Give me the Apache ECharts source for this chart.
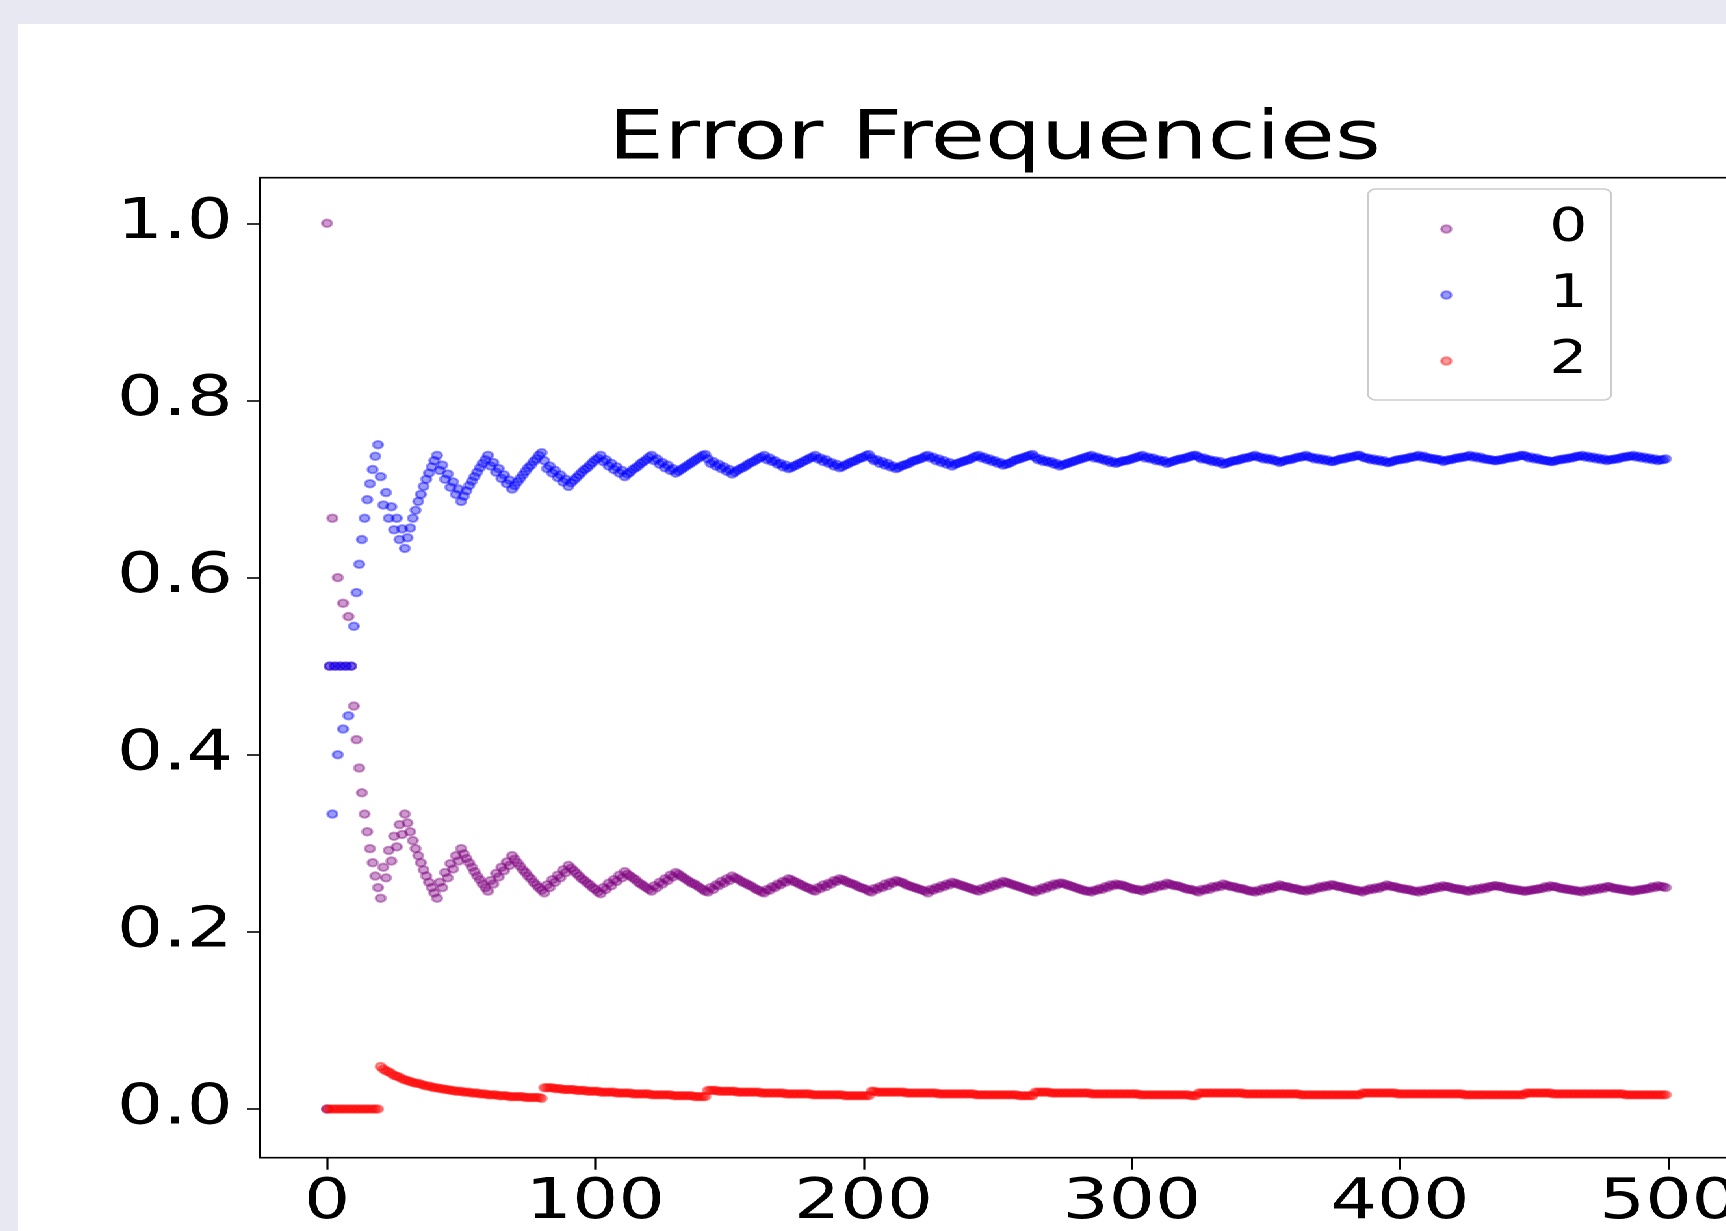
<!DOCTYPE html>
<html>
<head>
<meta charset="utf-8">
<title>Error Frequencies</title>
<script src="https://cdn.jsdelivr.net/npm/echarts@6/dist/echarts.min.js"></script>
<style>
html, body { margin: 0; padding: 0; background: #e8e8f2; overflow: hidden; }
/* the original figure is stretched sideways, so the chart is drawn narrow and scaled */
#chart {
  position: absolute; left: 18px; top: 24px;
  width: 1314px; height: 1207px;
  background: #fff;
  transform: scaleX(1.3); transform-origin: 0 0;
}
</style>
</head>
<body>
<div id="chart"></div>
<script>
// tick labels
const xTicks = [0, 100, 200, 300, 400, 500];
const yTicks = [0, 0.2, 0.4, 0.6, 0.8, 1.0];

// legend names and colours
const seriesNames = ['0', '1', '2'];
const seriesColors = ['rgba(128,0,128,0.5)', 'rgba(0,0,255,0.5)', 'rgba(255,0,0,0.5)'];

// frequency of error 0 at each step (step = index)
const freq0 = [
1,.5,.667,.5,.6,.5,.571,.5,.556,.5,
.455,.417,.385,.357,.333,.313,.294,.278,.263,.25,
.238,.273,.261,.292,.28,.308,.296,.321,.31,.333,
.323,.313,.303,.294,.286,.278,.27,.263,.256,.25,
.244,.238,.256,.25,.267,.261,.277,.271,.286,.28,
.294,.288,.283,.278,.273,.268,.263,.259,.254,.25,.246,
.258,.254,.266,.262,.273,.269,.279,.275,.286,.282,
.278,.274,.27,.267,.263,.26,.256,.253,.25,.247,
.244,.253,.25,.259,.256,.264,.261,.27,.267,.275,
.272,.269,.266,.263,.26,.258,.255,.253,.25,.248,
.245,.243,.25,.248,.255,.252,.259,.257,.264,.261,
.268,.265,.263,.261,.259,.256,.254,.252,.25,.248,.246,
.252,.25,.256,.254,.26,.258,.264,.262,.267,.265,
.263,.261,.259,.257,.255,.254,.252,.25,.248,.246,
.245,.25,.248,.253,.252,.257,.255,.26,.258,.263,
.261,.26,.258,.256,.255,.253,.252,.25,.248,.247,
.245,.244,.248,.247,.251,.25,.254,.253,.257,.256,
.26,.259,.257,.256,.254,.253,.251,.25,.249,.247,.246,
.25,.249,.253,.251,.255,.254,.258,.257,.26,.259,
.258,.256,.255,.254,.253,.251,.25,.249,.248,.246,
.245,.249,.248,.251,.25,.254,.252,.256,.255,.258,
.257,.256,.255,.253,.252,.251,.25,.249,.248,.247,
.246,.244,.248,.247,.25,.249,.252,.251,.254,.253,
.256,.255,.254,.253,.252,.251,.25,.249,.248,.247,.246,
.249,.248,.251,.25,.253,.252,.255,.254,.257,.256,
.255,.254,.253,.252,.251,.25,.249,.248,.247,.246,
.245,.248,.247,.25,.249,.252,.251,.254,.253,.255,
.255,.254,.253,.252,.251,.25,.249,.248,.247,.246,
.246,.245,.247,.247,.249,.248,.251,.25,.253,.252,
.254,.253,.253,.252,.251,.25,.249,.248,.248,.247,.246,
.248,.248,.25,.249,.252,.251,.253,.252,.255,.254,
.253,.252,.252,.251,.25,.249,.248,.248,.247,.246,
.245,.248,.247,.249,.248,.251,.25,.252,.251,.254,
.253,.252,.251,.251,.25,.249,.249,.248,.247,.246,
.246,.245,.247,.246,.249,.248,.25,.249,.251,.251,
.253,.252,.251,.251,.25,.249,.249,.248,.247,.247,.246,
.248,.247,.249,.249,.251,.25,.252,.251,.253,.253,
.252,.251,.251,.25,.249,.249,.248,.247,.247,.246,
.245,.247,.247,.249,.248,.25,.249,.251,.251,.253,
.252,.251,.251,.25,.249,.249,.248,.248,.247,.246,
.246,.245,.247,.246,.248,.248,.249,.249,.251,.25,
.252,.251,.251,.25,.249,.249,.248,.248,.247,.246,.246,
.248,.247,.249,.248,.25,.249,.251,.251,.252,.252,
.251,.251,.25,.249,.249,.248,.248,.247,.247,.246,
.246,.247,.247,.248,.248,.249,.249,.251,.25,.252,
.251,.251,.25,.249,.249,.248,.248,.247,.247,.246,
.246,.245,.247,.246,.248,.247,.249,.248,.25,.249,
.251,.251,.25,.249,.249,.248,.248,.247,.247,.246,.246,
.247,.247,.248,.248,.249,.249,.251,.25,.252,.251,.251,.25
];

// frequency of error 1
const freq1 = [
0,.5,.333,.5,.4,.5,.429,.5,.444,.5,
.545,.583,.615,.643,.667,.688,.706,.722,.737,.75,
.714,.682,.696,.667,.68,.654,.667,.643,.655,.633,
.645,.656,.667,.676,.686,.694,.703,.711,.718,.725,
.732,.738,.721,.727,.711,.717,.702,.708,.694,.7,
.686,.692,.698,.704,.709,.714,.719,.724,.729,.733,.738,
.726,.73,.719,.723,.712,.716,.706,.71,.7,.704,
.708,.712,.716,.72,.724,.727,.731,.734,.738,.741,
.732,.723,.726,.718,.721,.713,.716,.708,.711,.703,
.707,.71,.713,.716,.719,.722,.724,.727,.73,.733,
.735,.738,.731,.733,.726,.729,.722,.725,.718,.721,
.714,.717,.719,.722,.724,.726,.729,.731,.733,.736,.738,
.732,.734,.728,.73,.724,.727,.721,.723,.718,.72,
.722,.724,.726,.728,.73,.732,.734,.736,.738,.739,
.734,.729,.731,.726,.728,.723,.725,.72,.722,.717,
.719,.721,.723,.724,.726,.728,.73,.731,.733,.735,
.736,.738,.733,.735,.731,.732,.728,.729,.725,.727,
.723,.724,.726,.727,.729,.73,.732,.733,.735,.736,.738,
.734,.735,.731,.733,.729,.73,.726,.728,.724,.725,
.727,.728,.73,.731,.732,.734,.735,.736,.738,.739,
.735,.732,.733,.729,.731,.727,.729,.725,.726,.723,
.724,.726,.727,.728,.729,.731,.732,.733,.734,.735,
.737,.738,.735,.736,.732,.734,.73,.732,.728,.73,
.726,.728,.729,.73,.731,.732,.733,.734,.736,.737,.738,
.735,.736,.733,.734,.731,.732,.729,.73,.727,.728,
.729,.73,.732,.733,.734,.735,.736,.737,.738,.739,
.736,.733,.734,.731,.732,.73,.731,.728,.729,.726,
.727,.728,.729,.73,.731,.732,.733,.734,.735,.736,
.737,.738,.735,.736,.734,.734,.732,.733,.73,.731,
.729,.73,.731,.732,.732,.733,.734,.735,.736,.737,.738,
.735,.736,.734,.735,.732,.733,.731,.732,.729,.73,
.731,.732,.733,.734,.734,.735,.736,.737,.738,.738,
.736,.734,.735,.733,.733,.731,.732,.73,.731,.728,
.729,.73,.731,.732,.732,.733,.734,.735,.735,.736,
.737,.738,.736,.736,.734,.735,.733,.734,.732,.732,
.73,.731,.732,.733,.733,.734,.735,.736,.736,.737,.738,
.736,.736,.734,.735,.733,.734,.732,.733,.731,.731,
.732,.733,.734,.734,.735,.736,.736,.737,.738,.738,
.736,.735,.735,.733,.734,.732,.733,.731,.732,.73,
.73,.731,.732,.733,.733,.734,.734,.735,.736,.736,
.737,.738,.736,.737,.735,.735,.734,.734,.733,.733,
.731,.732,.733,.733,.734,.735,.735,.736,.736,.737,.738,
.736,.737,.735,.736,.734,.734,.733,.733,.732,.732,
.733,.733,.734,.735,.735,.736,.736,.737,.738,.738,
.737,.735,.736,.734,.735,.733,.733,.732,.732,.731,
.731,.732,.733,.733,.734,.734,.735,.735,.736,.737,
.737,.738,.736,.737,.735,.736,.734,.735,.733,.734,
.732,.733,.733,.734,.734,.735,.736,.736,.737,.737,.738,
.736,.737,.735,.736,.734,.735,.733,.734,.732,.733,.733,.734
];

// frequency of error 2
const freq2 = [
0,0,0,0,0,0,0,0,0,0,
0,0,0,0,0,0,0,0,0,0,
.048,.045,.043,.042,.04,.038,.037,.036,.034,.033,
.032,.031,.03,.029,.029,.028,.027,.026,.026,.025,
.024,.024,.023,.023,.022,.022,.021,.021,.02,.02,
.02,.019,.019,.019,.018,.018,.018,.017,.017,.017,.016,
.016,.016,.016,.015,.015,.015,.015,.014,.014,.014,
.014,.014,.014,.013,.013,.013,.013,.013,.013,.012,
.024,.024,.024,.024,.023,.023,.023,.022,.022,.022,
.022,.022,.021,.021,.021,.021,.02,.02,.02,.02,
.02,.019,.019,.019,.019,.019,.019,.018,.018,.018,
.018,.018,.018,.017,.017,.017,.017,.017,.017,.017,.016,
.016,.016,.016,.016,.016,.016,.016,.015,.015,.015,
.015,.015,.015,.015,.015,.014,.014,.014,.014,.014,
.021,.021,.021,.021,.02,.02,.02,.02,.02,.02,
.02,.019,.019,.019,.019,.019,.019,.019,.019,.019,
.018,.018,.018,.018,.018,.018,.018,.018,.018,.017,
.017,.017,.017,.017,.017,.017,.017,.017,.017,.016,.016,
.016,.016,.016,.016,.016,.016,.016,.016,.016,.016,
.015,.015,.015,.015,.015,.015,.015,.015,.015,.015,
.02,.02,.019,.019,.019,.019,.019,.019,.019,.019,
.019,.019,.019,.018,.018,.018,.018,.018,.018,.018,
.018,.018,.018,.018,.018,.017,.017,.017,.017,.017,
.017,.017,.017,.017,.017,.017,.017,.017,.017,.016,.016,
.016,.016,.016,.016,.016,.016,.016,.016,.016,.016,
.016,.016,.016,.016,.015,.015,.015,.015,.015,.015,
.019,.019,.019,.019,.019,.019,.018,.018,.018,.018,
.018,.018,.018,.018,.018,.018,.018,.018,.018,.018,
.018,.017,.017,.017,.017,.017,.017,.017,.017,.017,
.017,.017,.017,.017,.017,.017,.017,.017,.017,.016,.016,
.016,.016,.016,.016,.016,.016,.016,.016,.016,.016,
.016,.016,.016,.016,.016,.016,.016,.015,.015,.015,
.018,.018,.018,.018,.018,.018,.018,.018,.018,.018,
.018,.018,.018,.018,.018,.018,.018,.017,.017,.017,
.017,.017,.017,.017,.017,.017,.017,.017,.017,.017,
.017,.017,.017,.017,.017,.017,.017,.017,.016,.016,.016,
.016,.016,.016,.016,.016,.016,.016,.016,.016,.016,
.016,.016,.016,.016,.016,.016,.016,.016,.016,.016,
.018,.018,.018,.018,.018,.018,.018,.018,.018,.018,
.018,.018,.018,.017,.017,.017,.017,.017,.017,.017,
.017,.017,.017,.017,.017,.017,.017,.017,.017,.017,
.017,.017,.017,.017,.017,.017,.017,.017,.016,.016,.016,
.016,.016,.016,.016,.016,.016,.016,.016,.016,.016,
.016,.016,.016,.016,.016,.016,.016,.016,.016,.016,
.018,.018,.018,.018,.018,.018,.018,.018,.018,.018,
.017,.017,.017,.017,.017,.017,.017,.017,.017,.017,
.017,.017,.017,.017,.017,.017,.017,.017,.017,.017,
.017,.017,.017,.017,.017,.017,.017,.016,.016,.016,.016,
.016,.016,.016,.016,.016,.016,.016,.016,.016,.016,.016,.016
];

const allFreqs = [freq0, freq1, freq2];
const FONT = 'DejaVu Sans';

const chart = echarts.init(document.getElementById('chart'), null, { devicePixelRatio: 2 });

const option = {
  animation: false,
  textStyle: { fontFamily: FONT },
  title: {
    text: 'Error Frequencies',
    left: 454,
    top: 83,
    padding: 0,
    textStyle: { fontFamily: FONT, fontSize: 68, fontWeight: 'normal', color: '#000' }
  },
  legend: {
    data: seriesNames,
    orient: 'vertical',
    left: 1038.5,
    top: 165,
    padding: [17, 18.3, 16, 55.5],
    itemGap: 20,
    itemWidth: 12,
    itemHeight: 7.5,
    icon: 'circle',
    selectedMode: false,
    backgroundColor: 'rgba(255,255,255,0.8)',
    borderColor: '#cccccc',
    borderWidth: 1.5,
    borderRadius: 6,
    textStyle: { fontFamily: FONT, fontSize: 46, lineHeight: 46, color: '#000', padding: [0, 0, 0, 68.3] }
  },
  grid: {
    left: 186.2,
    top: 153.7,
    width: 1132.8,
    height: 980,
    show: true,
    borderColor: '#000',
    borderWidth: 1.6,
    backgroundColor: 'transparent',
    containLabel: false,
    outerBoundsMode: 'none'
  },
  xAxis: {
    type: 'value',
    min: -24.95,
    max: 523.95,
    splitLine: { show: false },
    axisLine: { show: false, onZero: false },
    axisTick: { show: true, length: 12, customValues: xTicks, lineStyle: { color: '#000', width: 1.6 } },
    axisLabel: { customValues: xTicks, margin: 18, fontFamily: FONT, fontSize: 56, color: '#000' }
  },
  yAxis: {
    type: 'value',
    min: -0.055,
    max: 1.0515,
    splitLine: { show: false },
    axisLine: { show: false, onZero: false },
    axisTick: { show: true, length: 9.8, customValues: yTicks, lineStyle: { color: '#000', width: 1.6 } },
    axisLabel: {
      customValues: yTicks, margin: 21, fontFamily: FONT, fontSize: 56, color: '#000',
      formatter: v => v.toFixed(1)
    }
  },
  series: seriesNames.map((name, k) => ({
    name: name,
    type: 'scatter',
    symbol: 'circle',
    symbolSize: 7.5,
    silent: true,
    emphasis: { disabled: true },
    itemStyle: { color: seriesColors[k], borderColor: seriesColors[k], borderWidth: 2 },
    data: allFreqs[k].map((v, i) => [i, v])
  }))
};

chart.setOption(option);
</script>
</body>
</html>
